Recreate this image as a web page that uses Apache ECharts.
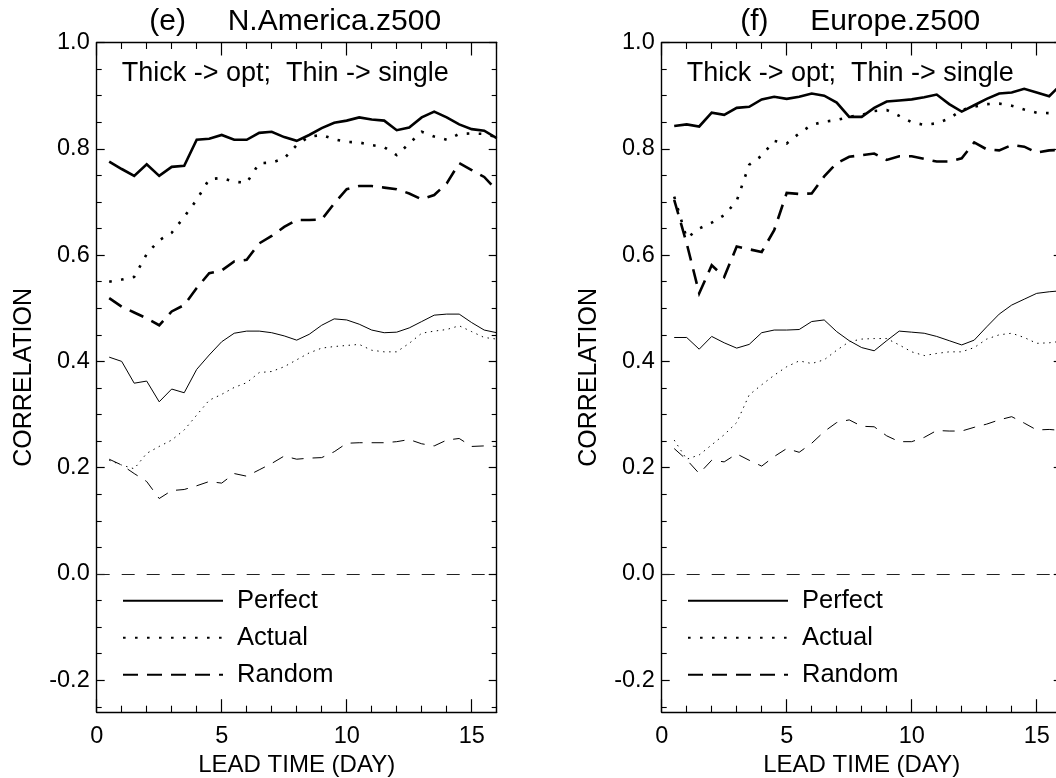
<!DOCTYPE html>
<html>
<head>
<meta charset="utf-8">
<script src="https://cdn.jsdelivr.net/npm/echarts@6/dist/echarts.min.js"></script>
<style>
html,body{margin:0;padding:0;background:#fff;}
#chart{width:1056px;height:778px;}
</style>
</head>
<body>
<div id="chart"></div>
<script>
// ---------------- DATA ----------------
const days = [0.5, 1, 1.5, 2, 2.5, 3, 3.5, 4, 4.5, 5, 5.5, 6, 6.5, 7, 7.5, 8,
              8.5, 9, 9.5, 10, 10.5, 11, 11.5, 12, 12.5, 13, 13.5, 14, 14.5, 15, 15.5, 16];

const panelTitles = ['(e)     N.America.z500', '(f)     Europe.z500'];
const noteText = 'Thick -> opt;  Thin -> single';
const legendNames = ['Perfect', 'Actual', 'Random'];

// N. America (panel e)
const naPerfectOpt = [0.776, 0.762, 0.749, 0.771, 0.749, 0.766, 0.768, 0.817, 0.819, 0.826, 0.817, 0.817, 0.830, 0.832, 0.822, 0.815,
                      0.826, 0.839, 0.849, 0.853, 0.859, 0.855, 0.853, 0.835, 0.840, 0.859, 0.870, 0.859, 0.846, 0.837, 0.834, 0.820];
const naActualOpt  = [0.550, 0.554, 0.559, 0.602, 0.628, 0.642, 0.672, 0.704, 0.743, 0.745, 0.738, 0.736, 0.773, 0.774, 0.782, 0.807,
                      0.823, 0.826, 0.818, 0.813, 0.812, 0.807, 0.803, 0.788, 0.810, 0.832, 0.823, 0.817, 0.828, 0.829, 0.828, 0.822];
const naRandomOpt  = [0.519, 0.503, 0.492, 0.481, 0.468, 0.494, 0.506, 0.538, 0.566, 0.571, 0.588, 0.591, 0.622, 0.636, 0.653, 0.666,
                      0.666, 0.667, 0.697, 0.724, 0.730, 0.730, 0.727, 0.724, 0.716, 0.705, 0.713, 0.735, 0.773, 0.760, 0.747, 0.722];
const naPerfectSgl = [0.408, 0.400, 0.359, 0.363, 0.324, 0.348, 0.341, 0.385, 0.412, 0.437, 0.453, 0.457, 0.457, 0.454, 0.448, 0.440,
                      0.451, 0.468, 0.480, 0.478, 0.470, 0.459, 0.454, 0.455, 0.463, 0.475, 0.487, 0.489, 0.489, 0.473, 0.459, 0.454];
const naActualSgl  = [0.214, 0.205, 0.198, 0.227, 0.240, 0.252, 0.271, 0.299, 0.327, 0.338, 0.351, 0.360, 0.379, 0.381, 0.390, 0.403,
                      0.416, 0.425, 0.428, 0.430, 0.432, 0.421, 0.418, 0.418, 0.434, 0.453, 0.457, 0.460, 0.467, 0.456, 0.445, 0.442];
const naRandomSgl  = [0.216, 0.205, 0.189, 0.174, 0.142, 0.157, 0.159, 0.166, 0.174, 0.171, 0.189, 0.184, 0.196, 0.208, 0.222, 0.216,
                      0.218, 0.219, 0.230, 0.246, 0.247, 0.247, 0.247, 0.249, 0.253, 0.245, 0.241, 0.252, 0.255, 0.240, 0.241, 0.240];

// Europe (panel f)
const euPerfectOpt = [0.843, 0.846, 0.842, 0.868, 0.864, 0.877, 0.879, 0.893, 0.898, 0.894, 0.898, 0.904, 0.900, 0.887, 0.860, 0.860,
                      0.877, 0.889, 0.891, 0.893, 0.897, 0.902, 0.884, 0.870, 0.882, 0.894, 0.904, 0.906, 0.913, 0.906, 0.899, 0.922];
const euActualOpt  = [0.710, 0.632, 0.650, 0.661, 0.675, 0.702, 0.770, 0.787, 0.815, 0.810, 0.829, 0.845, 0.851, 0.854, 0.860, 0.864,
                      0.871, 0.873, 0.862, 0.850, 0.845, 0.848, 0.857, 0.873, 0.879, 0.884, 0.885, 0.881, 0.874, 0.868, 0.867, 0.870];
const euRandomOpt  = [0.704, 0.622, 0.528, 0.581, 0.559, 0.616, 0.611, 0.606, 0.647, 0.717, 0.715, 0.716, 0.748, 0.773, 0.785, 0.788,
                      0.791, 0.779, 0.786, 0.786, 0.781, 0.776, 0.776, 0.782, 0.812, 0.799, 0.797, 0.807, 0.804, 0.793, 0.797, 0.798];
const euPerfectSgl = [0.445, 0.445, 0.423, 0.447, 0.435, 0.425, 0.432, 0.454, 0.459, 0.459, 0.460, 0.475, 0.478, 0.456, 0.439, 0.426,
                      0.420, 0.439, 0.457, 0.455, 0.453, 0.447, 0.439, 0.431, 0.440, 0.465, 0.489, 0.506, 0.517, 0.528, 0.531, 0.533];
const euActualSgl  = [0.252, 0.216, 0.224, 0.243, 0.262, 0.285, 0.337, 0.356, 0.374, 0.390, 0.401, 0.396, 0.403, 0.421, 0.437, 0.442,
                      0.443, 0.443, 0.431, 0.418, 0.411, 0.415, 0.418, 0.418, 0.426, 0.442, 0.450, 0.453, 0.445, 0.434, 0.435, 0.438];
const euRandomSgl  = [0.236, 0.215, 0.189, 0.214, 0.211, 0.226, 0.214, 0.203, 0.221, 0.236, 0.229, 0.246, 0.268, 0.285, 0.290, 0.278,
                      0.277, 0.260, 0.249, 0.249, 0.257, 0.270, 0.269, 0.269, 0.276, 0.282, 0.290, 0.296, 0.284, 0.271, 0.272, 0.270];

// Axis ranges and ticks
const X_MIN = 0, X_MAX = 16;
const Y_MIN = -0.26, Y_MAX = 1.0;
const xTickLabels = [0, 5, 10, 15];
const xMinorTicks = [1, 2, 3, 4, 6, 7, 8, 9, 11, 12, 13, 14, 16];
const yTickLabels = [-0.2, 0.0, 0.2, 0.4, 0.6, 0.8, 1.0];
const yMinorTicks = [-0.25, -0.15, -0.1, -0.05, 0.05, 0.1, 0.15, 0.25, 0.3, 0.35, 0.45, 0.5, 0.55,
                     0.65, 0.7, 0.75, 0.85, 0.9, 0.95];
const zeroLineValue = 0;

// ---------------- LAYOUT / STYLE ----------------
const FONT = '"Liberation Sans", Helvetica, Arial, sans-serif';
const GRID_TOP = 42.5, GRID_H = 669.7, GRID_W = 400;
const gridLefts = [96.7, 661.7];
const BLACK = '#000';

function xAxesFor(gi) {
  const base = {
    gridIndex: gi, type: 'value', min: X_MIN, max: X_MAX,
    splitLine: {show: false}, axisLabel: {show: false},
    axisLine: {show: false, onZero: false}
  };
  const major = {show: true, inside: true, length: 13, customValues: xTickLabels, lineStyle: {color: BLACK, width: 1.2}};
  const minor = {show: true, inside: true, length: 6.5, customValues: xMinorTicks, lineStyle: {color: BLACK, width: 1.1}};
  const line = {show: true, onZero: false, lineStyle: {color: BLACK, width: 1.4}};
  return [
    Object.assign({}, base, {
      position: 'bottom', axisLine: line, axisTick: major,
      axisLabel: {show: true, customValues: xTickLabels, margin: 12, fontSize: 23.5, fontFamily: FONT, color: BLACK},
      name: 'LEAD TIME (DAY)', nameLocation: 'middle', nameGap: 36,
      nameTextStyle: {fontSize: 24, fontFamily: FONT, color: BLACK}
    }),
    Object.assign({}, base, {position: 'bottom', axisTick: minor}),
    Object.assign({}, base, {position: 'top', axisLine: line, axisTick: major}),
    Object.assign({}, base, {position: 'top', axisTick: minor})
  ];
}

function yAxesFor(gi) {
  const base = {
    gridIndex: gi, type: 'value', min: Y_MIN, max: Y_MAX,
    splitLine: {show: false}, axisLabel: {show: false},
    axisLine: {show: false, onZero: false}
  };
  const major = {show: true, inside: true, length: 8, customValues: yTickLabels, lineStyle: {color: BLACK, width: 1.2}};
  const minor = {show: true, inside: true, length: 5, customValues: yMinorTicks, lineStyle: {color: BLACK, width: 1.1}};
  const line = {show: true, onZero: false, lineStyle: {color: BLACK, width: 1.4}};
  return [
    Object.assign({}, base, {
      position: 'left', axisLine: line, axisTick: major,
      axisLabel: {show: true, customValues: yTickLabels, margin: 7, fontSize: 23.5, fontFamily: FONT, color: BLACK,
                  formatter: v => Number(v).toFixed(1)},
      name: 'CORRELATION', nameLocation: 'middle', nameGap: 60, nameRotate: 90,
      nameTextStyle: {fontSize: 25, fontFamily: FONT, color: BLACK}
    }),
    Object.assign({}, base, {position: 'left', axisTick: minor}),
    Object.assign({}, base, {position: 'right', axisLine: line, axisTick: major}),
    Object.assign({}, base, {position: 'right', axisTick: minor})
  ];
}

const DASH = {
  solid: {thick: 'solid', thin: 'solid'},
  dot:   {thick: [2.6, 9.4], thin: [1.4, 4.6]},
  dash:  {thick: [15, 9], thin: [12, 9]}
};

function lineSeries(name, gi, vals, thick, kind, extra) {
  const s = {
    type: 'line', name: name, xAxisIndex: gi * 4, yAxisIndex: gi * 4,
    data: days.map((d, i) => [d, vals[i]]),
    symbol: 'none', silent: true, clip: true,
    lineStyle: {color: BLACK, width: thick ? 2.6 : 1.0, type: DASH[kind][thick ? 'thick' : 'thin'], cap: 'butt', join: 'miter'},
    emphasis: {disabled: true}
  };
  return Object.assign(s, extra || {});
}

function seriesFor(gi, sets) {
  return [
    lineSeries('Perfect', gi, sets[0], true, 'solid', {
      markLine: {
        silent: true, symbol: 'none', animation: false,
        label: {show: false},
        lineStyle: {color: '#222', width: 1, type: [13, 12]},
        emphasis: {disabled: true},
        data: [{yAxis: zeroLineValue}]
      }
    }),
    lineSeries('Actual', gi, sets[1], true, 'dot'),
    lineSeries('Random', gi, sets[2], true, 'dash'),
    lineSeries('Perfect single', gi, sets[3], false, 'solid'),
    lineSeries('Actual single', gi, sets[4], false, 'dot'),
    lineSeries('Random single', gi, sets[5], false, 'dash')
  ];
}

function legendFor(gi) {
  return {
    orient: 'vertical', left: gridLefts[gi] + 25.3, top: 585.7, padding: 0,
    itemWidth: 100, itemHeight: 14, itemGap: 7,
    selectedMode: false,
    data: legendNames,
    itemStyle: {opacity: 0},
    textStyle: {fontSize: 25.5, fontFamily: FONT, color: BLACK, lineHeight: 30, padding: [0, 0, 0, 9]}
  };
}

const chart = echarts.init(document.getElementById('chart'), null, {renderer: 'canvas'});

const option = {
  animation: false,
  backgroundColor: '#fff',
  grid: gridLefts.map(l => ({
    left: l, top: GRID_TOP, width: GRID_W, height: GRID_H,
    containLabel: false, outerBoundsMode: 'none', show: false
  })),
  xAxis: xAxesFor(0).concat(xAxesFor(1)),
  yAxis: yAxesFor(0).concat(yAxesFor(1)),
  legend: [legendFor(0), legendFor(1)],
  graphic: [0, 1].map(gi => ({
    type: 'text', x: gridLefts[gi] + GRID_W / 2 - 1.5, y: 22, silent: true,
    style: {text: panelTitles[gi], fontSize: 30, fontFamily: FONT, fill: BLACK, textAlign: 'center', textVerticalAlign: 'middle'}
  })).concat([0, 1].map(gi => ({
    type: 'text', x: gridLefts[gi] + 25, y: 74, silent: true,
    style: {text: noteText, fontSize: 27, fontFamily: FONT, fill: BLACK, textAlign: 'left', textVerticalAlign: 'middle'}
  }))),
  series: seriesFor(0, [naPerfectOpt, naActualOpt, naRandomOpt, naPerfectSgl, naActualSgl, naRandomSgl])
    .concat(seriesFor(1, [euPerfectOpt, euActualOpt, euRandomOpt, euPerfectSgl, euActualSgl, euRandomSgl]))
};

chart.setOption(option);
</script>
</body>
</html>
